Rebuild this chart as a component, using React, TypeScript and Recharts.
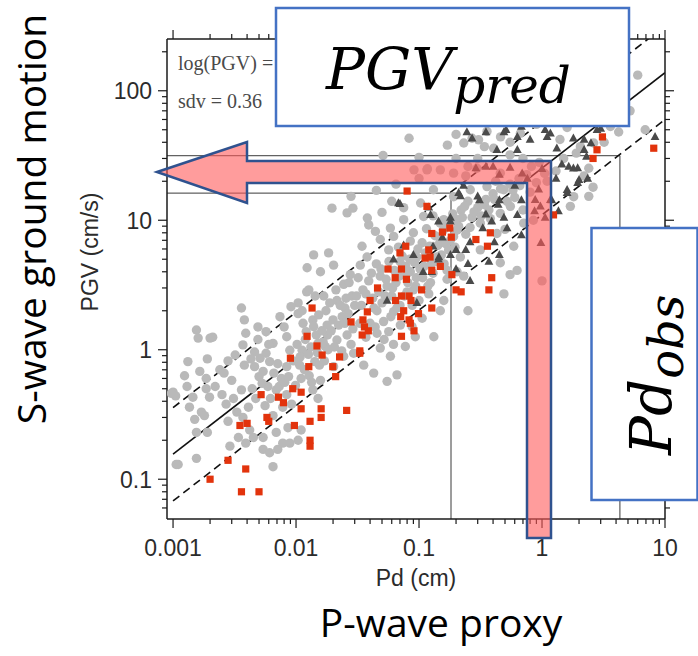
import { ReferenceLine, Scatter, ScatterChart, XAxis, YAxis } from "recharts"

// axis ranges (log10 scales)
const X_MIN = 0.000893
const X_MAX = 10
const Y_MIN = 0.0493
const Y_MAX = 251

const xMajorTicks = [0.001, 0.01, 0.1, 1, 10]
const xTickLabels = ["0.001", "0.01", "0.1", "1", "10"]
const xMinorTicks = [
  0.002, 0.003, 0.004, 0.005, 0.006, 0.007, 0.008, 0.009,
  0.02, 0.03, 0.04, 0.05, 0.06, 0.07, 0.08, 0.09,
  0.2, 0.3, 0.4, 0.5, 0.6, 0.7, 0.8, 0.9,
  2, 3, 4, 5, 6, 7, 8, 9,
]
const yMajorTicks = [0.1, 1, 10, 100]
const yTickLabels = ["0.1", "1", "10", "100"]
const yMinorTicks = [
  0.06, 0.07, 0.08, 0.09,
  0.2, 0.3, 0.4, 0.5, 0.6, 0.7, 0.8, 0.9,
  2, 3, 4, 5, 6, 7, 8, 9,
  20, 30, 40, 50, 60, 70, 80, 90, 200,
]

// [Pd (cm), PGV (cm/s)]
const grayPoints = [
  [0.001, 0.47], [0.00105, 0.44], [0.0011, 0.13], [0.00097, 0.46], [0.00106, 0.13],
  [0.00155, 1.42], [0.0016, 1.23], [0.002, 1.23], [0.0021, 1.25], [0.00132, 0.81],
  [0.00124, 0.63], [0.00165, 0.68], [0.00186, 0.6], [0.00145, 0.43], [0.00136, 0.36],
  [0.00198, 0.43], [0.00186, 0.5], [0.0017, 0.33], [0.0015, 0.29], [0.0018, 0.31],
  [0.00155, 0.23], [0.0019, 0.23], [0.00155, 0.145], [0.0024, 0.7], [0.0026, 0.66],
  [0.003, 0.58], [0.0032, 0.91], [0.0037, 1.09], [0.0038, 0.76], [0.0036, 0.49],
  [0.0028, 0.28], [0.0034, 0.21], [0.0029, 0.18], [0.0039, 0.19], [0.0045, 0.21],
  [0.0054, 0.21], [0.0054, 0.17], [0.0071, 0.17], [0.0078, 0.19], [0.0089, 0.19],
  [0.0061, 0.16], [0.0065, 0.125], [0.0036, 2.1], [0.0038, 1.7], [0.0039, 1.34],
  [0.0049, 1.5], [0.0057, 1.38], [0.0049, 1.2], [0.0046, 0.96], [0.0051, 0.86],
  [0.0057, 0.94], [0.0046, 0.74], [0.0054, 0.68], [0.0061, 0.81], [0.0065, 1.12],
  [0.0074, 1.8], [0.0084, 1.26], [0.0104, 1.9], [0.0114, 1.6], [0.0121, 1.38],
  [0.0137, 1.7], [0.0076, 0.6], [0.0069, 0.49], [0.0059, 0.52], [0.0084, 0.45],
  [0.011, 0.6], [0.0078, 0.36], [0.0065, 0.31], [0.0069, 0.23], [0.0086, 0.25],
  [0.0137, 0.49], [0.0151, 0.42], [0.0128, 0.63], [0.0142, 0.81], [0.0155, 0.76],
  [0.0107, 0.76], [0.0084, 0.74], [0.0089, 0.99], [0.0112, 0.99], [0.0151, 1.12],
  [0.0037, 0.3], [0.0042, 0.24], [0.0104, 0.2], [0.011, 0.24], [0.0104, 2.3],
  [0.0143, 2.6], [0.0091, 2.15], [0.0122, 2.8],
  [0.0196, 12.4], [0.026, 11.4], [0.039, 9.2], [0.0139, 5.4], [0.0184, 5.6],
  [0.0202, 4.5], [0.0158, 4.0], [0.0123, 4.3], [0.0276, 3.8], [0.0244, 3.2],
  [0.0333, 4.5], [0.0378, 5.2], [0.0344, 6.3], [0.0484, 7.1], [0.0442, 8.2],
  [0.0585, 8.7], [0.0567, 5.9], [0.039, 3.4], [0.0484, 3.7], [0.055, 3.1],
  [0.0285, 2.6], [0.0215, 2.4], [0.0168, 2.6], [0.0127, 2.9], [0.0112, 2.0],
  [0.0153, 1.86], [0.0179, 1.55], [0.0139, 1.51], [0.0237, 1.8], [0.026, 1.3],
  [0.0215, 1.19], [0.0294, 0.94], [0.0244, 0.89], [0.0355, 0.76], [0.0484, 1.03],
  [0.0455, 1.34], [0.0567, 1.38], [0.0515, 1.65], [0.0455, 2.0], [0.0622, 1.97],
  [0.0705, 1.55], [0.0877, 1.51], [0.0933, 1.26], [0.0774, 1.06], [0.0585, 0.89],
  [0.0428, 0.66], [0.0662, 0.64], [0.055, 0.57], [0.106, 1.75], [0.132, 1.26],
  [0.159, 2.4], [0.149, 2.0], [0.09, 2.9], [0.124, 3.3], [0.169, 3.5],
  [0.204, 4.0], [0.085, 4.0], [0.096, 5.2], [0.085, 6.9], [0.0622, 7.5],
  [0.075, 10.1], [0.106, 6.7], [0.149, 7.1], [0.174, 5.9], [0.191, 7.5],
  [0.159, 10.1], [0.204, 10.1], [0.103, 13.6], [0.038, 10.4], [0.029, 12.4],
  [0.0173, 1.06], [0.0202, 0.74], [0.0158, 0.58],
  [0.03, 2.2], [0.035, 2.9], [0.042, 2.5], [0.05, 2.3], [0.06, 2.6],
  [0.065, 3.3], [0.033, 1.6], [0.04, 1.6], [0.052, 1.2], [0.062, 1.1],
  [0.07, 2.2], [0.08, 2.8], [0.095, 3.6], [0.11, 4.4], [0.025, 2.1],
  [0.02, 1.7], [0.018, 1.3], [0.028, 1.1], [0.045, 4.6], [0.07, 4.8],
  [0.08, 3.9], [0.1, 2.4], [0.12, 2.7], [0.13, 3.9], [0.14, 5.2],
  [0.16, 4.6], [0.115, 8.6], [0.13, 10.8], [0.09, 8.0], [0.068, 6.2],
  [0.028, 15.3], [0.051, 31.6], [0.083, 43], [0.1, 30.6], [0.117, 25],
  [0.045, 17], [0.065, 19], [0.06, 14], [0.075, 12.5], [0.05, 11.5],
  [0.231, 39.5], [0.305, 41.8], [0.404, 36], [0.357, 48.5], [0.667, 47],
  [2.05, 37], [2.63, 39.5], [2.4, 25.2], [1.81, 15.2], [1.7, 12.8],
  [0.116, 24.5], [0.149, 24.5], [0.191, 23.1], [0.296, 25.2], [0.458, 23.1],
  [0.489, 17.2], [0.357, 18.2], [0.261, 17.2], [0.191, 15.2], [0.131, 17.2],
  [0.109, 10.7], [0.149, 9.5], [0.204, 8.4], [0.315, 9.5], [0.458, 11.3],
  [0.553, 12.8], [0.43, 7.9], [0.589, 6.3], [0.458, 4.7], [0.315, 5.9],
  [0.217, 5.2], [0.169, 4.1], [0.231, 3.7], [1.0, 3.4], [0.627, 4.1],
  [0.71, 9.5], [0.27, 43], [0.34, 37], [0.46, 44], [0.55, 40],
  [1.4, 42], [3.6, 53], [6.0, 132], [6.9, 50], [0.26, 58],
  [0.33, 62], [0.45, 68], [0.6, 58], [0.75, 63], [0.9, 55],
  [1.2, 60], [1.6, 52], [2.0, 62], [0.2, 46], [0.17, 38],
  [0.091, 24.5], [0.24, 22], [0.1, 21], [2.6, 18], [2.4, 15.3],
  [2.2, 22], [0.55, 3.8], [0.49, 2.7], [0.25, 2.0],
  [0.22, 12], [0.25, 14], [0.3, 12.5], [0.35, 14.5], [0.4, 16],
  [0.42, 20], [0.55, 19], [0.6, 15], [0.65, 21], [0.5, 8.5],
  [0.38, 10.3], [0.27, 10.5], [0.24, 7.8], [0.7, 12], [0.8, 16.5],
  [0.85, 10], [1.1, 20], [1.3, 24], [0.95, 28], [0.7, 30],
  [0.55, 32], [0.3, 30], [0.2, 30], [0.25, 26],
  [0.0025, 0.45], [0.0027, 0.38], [0.0031, 0.42], [0.0033, 0.33], [0.0041, 0.36],
  [0.0044, 0.5], [0.0047, 0.42], [0.005, 0.62], [0.0053, 0.55], [0.0056, 0.37],
  [0.0062, 0.42], [0.0066, 0.66], [0.0071, 0.78], [0.0073, 0.52], [0.0081, 0.56],
  [0.0087, 0.62], [0.0092, 0.38], [0.0095, 0.82], [0.0099, 0.53], [0.0102, 1.1],
  [0.0108, 0.88], [0.0117, 0.7], [0.0119, 1.2], [0.0126, 0.92], [0.0132, 1.05],
  [0.0134, 0.56], [0.0146, 1.3], [0.0149, 0.95], [0.0162, 1.4], [0.0166, 1.15],
  [0.017, 0.82], [0.0175, 2.0], [0.0182, 1.0], [0.0188, 2.3], [0.0193, 1.4],
  [0.0205, 1.05], [0.0211, 2.9], [0.0222, 1.55], [0.0229, 2.2], [0.0235, 0.98],
  [0.0249, 1.6], [0.0255, 2.5], [0.0265, 1.9], [0.027, 3.3], [0.029, 1.45],
  [0.031, 2.6], [0.032, 3.6], [0.034, 2.2], [0.037, 2.7], [0.037, 1.25],
  [0.041, 3.9], [0.043, 2.1], [0.044, 1.5], [0.047, 2.8], [0.049, 4.2],
  [0.053, 2.6], [0.054, 3.5], [0.057, 4.8], [0.059, 1.8], [0.061, 3.0],
  [0.063, 4.1], [0.066, 2.1], [0.069, 3.7], [0.073, 5.3], [0.076, 2.6],
  [0.078, 4.4], [0.081, 3.3], [0.084, 5.0], [0.088, 2.2], [0.092, 4.7],
  [0.094, 3.1], [0.098, 6.0], [0.102, 4.2], [0.107, 3.6], [0.113, 5.6],
  [0.118, 3.1], [0.122, 6.3], [0.126, 4.6], [0.135, 7.6], [0.138, 4.8],
  [0.142, 6.4], [0.152, 5.4], [0.158, 8.4], [0.165, 6.6], [0.172, 9.3],
  [0.18, 7.0], [0.188, 11.2], [0.196, 6.2], [0.21, 9.0], [0.225, 10.5],
  [0.235, 12.8], [0.26, 8.8], [0.28, 11.6], [0.32, 10.8], [0.34, 13.2],
  [0.37, 12.0], [0.41, 14.5], [0.46, 17.5], [0.52, 14.0], [0.58, 17.0],
  [0.66, 18.5], [0.75, 22.5], [0.82, 26], [0.9, 19.5], [1.05, 23],
  [1.5, 30], [1.9, 33], [3.2, 40], [4.2, 48], [5.2, 70],
  [0.008, 1.5], [0.006, 1.1], [0.0043, 0.85], [0.0028, 0.82], [0.0022, 0.52],
  [0.0013, 0.52], [0.0019, 0.85],
]

const redPoints = [
  [0.002, 0.1], [0.0028, 0.14], [0.0039, 0.12], [0.0036, 0.08], [0.005, 0.08],
  [0.0035, 0.26], [0.004, 0.27], [0.0052, 0.45], [0.0058, 0.3], [0.006, 0.28],
  [0.0072, 0.43], [0.0079, 0.39], [0.009, 0.86], [0.0094, 0.5], [0.0097, 0.26],
  [0.011, 0.47], [0.011, 0.35], [0.0123, 1.27], [0.0127, 0.74], [0.013, 0.28],
  [0.013, 0.2], [0.013, 0.18], [0.0135, 2.1], [0.0148, 1.07], [0.0163, 0.91],
  [0.016, 0.35], [0.016, 0.3], [0.0199, 0.74], [0.021, 0.62], [0.0226, 0.88],
  [0.0258, 0.34], [0.028, 1.64], [0.033, 0.98], [0.0345, 1.3], [0.036, 1.5],
  [0.038, 1.96], [0.0387, 1.4], [0.035, 1.7], [0.033, 0.94], [0.04, 2.4],
  [0.046, 3.0], [0.056, 4.2], [0.064, 3.6], [0.0645, 2.4], [0.07, 5.6],
  [0.072, 4.2], [0.072, 2.6], [0.072, 1.27], [0.071, 1.8], [0.075, 2.0],
  [0.078, 6.3], [0.079, 3.5], [0.08, 16.8], [0.083, 2.6], [0.083, 1.7],
  [0.085, 1.6], [0.086, 2.4], [0.091, 1.4], [0.099, 1.9], [0.105, 2.9],
  [0.112, 5.1], [0.116, 12.8], [0.12, 5.9], [0.123, 5.2], [0.127, 7.9],
  [0.127, 4.1], [0.127, 2.1], [0.149, 4.4], [0.155, 8.1], [0.178, 8.7],
  [0.183, 7.4], [0.185, 3.8], [0.2, 2.9], [0.22, 2.8], [0.29, 7.1],
  [0.36, 6.3], [0.38, 8.0], [0.39, 3.6], [0.37, 2.9], [1.24, 11],
  [2.6, 30], [2.8, 35], [3.1, 44], [8.1, 36],
]

const trianglePoints = [
  [0.07, 13.4], [0.12, 12.6], [0.18, 10.5], [0.21, 16.3], [0.155, 7.4],
  [0.18, 9.8], [0.13, 6.3], [0.145, 5.2], [0.18, 5.4], [0.24, 5.9],
  [0.25, 4.6], [0.2, 4.2], [0.37, 4.8], [0.41, 6.8], [0.33, 8.7],
  [0.39, 9.8], [0.49, 10.5], [0.45, 14.3], [0.68, 14.3], [0.6, 18.5],
  [0.76, 21], [0.98, 6.7], [0.94, 17.3], [1.0, 25], [1.3, 21],
  [1.45, 27], [1.95, 25.3], [2.2, 35], [2.5, 39.5], [3.0, 51],
  [8.3, 44], [0.45, 22.5], [0.55, 25.5], [0.35, 26], [0.29, 25.3],
  [0.27, 43], [0.35, 48], [0.49, 48], [0.68, 53], [1.06, 50],
  [1.36, 56], [1.8, 43], [0.43, 35], [0.63, 35], [0.23, 18.5],
  [0.31, 14.3], [0.35, 11.1], [0.52, 8.7], [0.68, 7.7], [0.45, 5.4],
  [0.87, 11.8], [1.06, 10.5], [1.36, 11.8], [1.2, 14.3], [1.6, 16.3],
  [1.95, 19.5], [2.35, 21], [0.51, 50], [1.17, 47], [0.8, 42],
  [0.63, 44], [0.245, 48], [1.32, 36], [0.4, 26], [0.69, 23],
  [0.88, 14.4], [0.3, 15.3], [0.217, 15.4], [0.44, 13.2], [0.63, 11],
  [0.26, 6.8], [0.2, 5.9], [1.8, 25.2], [1.6, 17.2], [2.3, 31],
  [1.1, 44], [2.8, 50], [2.2, 42], [1.65, 26], [2.0, 20.5],
  [1.17, 14.4], [0.97, 12.8], [0.068, 13.6], [0.124, 11], [0.144, 9.8],
  [0.09, 5.4], [0.075, 6.4], [0.062, 5.0], [0.127, 4.0], [0.096, 2.3],
  [0.055, 2.4], [0.144, 5.0], [0.108, 4.0], [0.26, 3.4],
]

// regression line and +/- 1 sdv, read at the ends of the plot
const fitLine = [{ pd: 0.001, pgv: 0.156 }, { pd: 10, pgv: 138 }]
const upperLine = [{ pd: 0.001, pgv: 0.357 }, { pd: 10, pgv: 317 }]
const lowerLine = [{ pd: 0.001, pgv: 0.068 }, { pd: 10, pgv: 60 }]
// guide lines: Pd up to the dashed line, then across to the PGV axis
const guideLow = [{ pd: 0.182, pgv: Y_MIN }, { pd: 0.182, pgv: 16.2 }, { pd: X_MIN, pgv: 16.2 }]
const guideHigh = [{ pd: 4.3, pgv: Y_MIN }, { pd: 4.3, pgv: 31.5 }, { pd: X_MIN, pgv: 31.5 }]

const toRows = (pts: number[][]) => pts.map(([pd, pgv]) => ({ pd, pgv }))
const grayData = toRows(grayPoints)
const redData = toRows(redPoints)
const triangleData = toRows(trianglePoints)

const SANS = '"Liberation Sans", Arial, sans-serif'
const SERIF = '"Liberation Serif", "Times New Roman", serif'
const MATH = '"DejaVu Serif", serif'
const BIG = '"Open Sans", "Noto Sans", sans-serif'
const AXIS = "#1b1b1b"

const GrayDot = (p: any) => <circle cx={p.cx} cy={p.cy} r={4.7} fill="#b9b9b9" />
const RedSquare = (p: any) => (
  <rect x={p.cx - 3.6} y={p.cy - 3.6} width={7.2} height={7.2} fill="#e2330c" />
)
const DarkTriangle = (p: any) => (
  <polygon
    points={`${p.cx},${p.cy - 4.8} ${p.cx - 4.4},${p.cy + 3.2} ${p.cx + 4.4},${p.cy + 3.2}`}
    fill="#4a4a4a"
  />
)

// ticks: side says which way the tick line points
const XTick = ({ x, y, payload, side }: any) => {
  const i = xMajorTicks.indexOf(payload.value)
  const len = i >= 0 ? 9 : 5
  const dir = side === "top" ? -1 : 1
  return (
    <g>
      <line x1={x} x2={x} y1={y} y2={y + dir * len} stroke={AXIS} strokeWidth={1.2} />
      {side === "bottom" && i >= 0 && (
        <text x={x} y={y + 37} textAnchor="middle" fontFamily={SANS} fontSize={23} fill="#2b2b2b">
          {xTickLabels[i]}
        </text>
      )}
    </g>
  )
}

const YTick = ({ x, y, payload, side }: any) => {
  const i = yMajorTicks.indexOf(payload.value)
  const len = i >= 0 ? 9 : 5
  const dir = side === "left" ? -1 : 1
  return (
    <g>
      <line x1={x} x2={x + dir * len} y1={y} y2={y} stroke={AXIS} strokeWidth={1.2} />
      {side === "left" && i >= 0 && (
        <text x={x - 15} y={y} dy="0.36em" textAnchor="end" fontFamily={SANS} fontSize={23} fill="#2b2b2b">
          {yTickLabels[i]}
        </text>
      )}
    </g>
  )
}

const polySegments = (pts: { pd: number; pgv: number }[], key: string, color: string) =>
  pts.slice(1).map((p, i) => (
    <ReferenceLine
      key={key + i}
      segment={[{ x: pts[i].pd, y: pts[i].pgv }, { x: p.pd, y: p.pgv }]}
      stroke={color}
      strokeWidth={1}
      ifOverflow="hidden"
    />
  ))

export default function App() {
  const xTicks = [...xMajorTicks, ...xMinorTicks]
  const yTicks = [...yMajorTicks, ...yMinorTicks]
  const axisLine = { stroke: AXIS, strokeWidth: 1.5 }

  return (
    <div style={{ position: "absolute", left: 0, top: 0, width: 698, height: 656, background: "#fff" }}>
      <ScatterChart width={698} height={656} margin={{ top: 29, right: 23, bottom: 107, left: 107 }}>
        <XAxis
          type="number"
          dataKey="pd"
          scale="log"
          domain={[X_MIN, X_MAX]}
          allowDataOverflow
          ticks={xTicks}
          interval={0}
          tickSize={0}
          tickMargin={0}
          tickLine={false}
          axisLine={axisLine}
          tick={(p: any) => <XTick {...p} side="bottom" />}
          height={30}
          label={{ value: "Pd (cm)", position: "bottom", offset: 21, fill: "#2b2b2b", fontSize: 23, fontFamily: SANS }}
        />
        <XAxis
          xAxisId="top"
          orientation="top"
          type="number"
          dataKey="pd"
          scale="log"
          domain={[X_MIN, X_MAX]}
          allowDataOverflow
          ticks={xTicks}
          interval={0}
          tickSize={0}
          tickMargin={0}
          tickLine={false}
          axisLine={axisLine}
          tick={(p: any) => <XTick {...p} side="top" />}
          height={10}
        />
        <YAxis
          type="number"
          dataKey="pgv"
          scale="log"
          domain={[Y_MIN, Y_MAX]}
          allowDataOverflow
          ticks={yTicks}
          interval={0}
          tickSize={0}
          tickMargin={0}
          tickLine={false}
          axisLine={axisLine}
          tick={(p: any) => <YTick {...p} side="left" />}
          width={60}
        />
        <YAxis
          yAxisId="right"
          orientation="right"
          type="number"
          dataKey="pgv"
          scale="log"
          domain={[Y_MIN, Y_MAX]}
          allowDataOverflow
          ticks={yTicks}
          interval={0}
          tickSize={0}
          tickMargin={0}
          tickLine={false}
          axisLine={axisLine}
          tick={(p: any) => <YTick {...p} side="right" />}
          width={10}
        />
        <Scatter data={grayData} shape={GrayDot} isAnimationActive={false} />
        <Scatter data={triangleData} shape={DarkTriangle} isAnimationActive={false} />
        <Scatter data={redData} shape={RedSquare} isAnimationActive={false} />
        {polySegments(guideLow, "gl", "#3a3a3a")}
        {polySegments(guideHigh, "gh", "#3a3a3a")}
        <ReferenceLine
          segment={[{ x: fitLine[0].pd, y: fitLine[0].pgv }, { x: fitLine[1].pd, y: fitLine[1].pgv }]}
          stroke="#111"
          strokeWidth={1.6}
          ifOverflow="hidden"
        />
        <ReferenceLine
          segment={[{ x: upperLine[0].pd, y: upperLine[0].pgv }, { x: upperLine[1].pd, y: upperLine[1].pgv }]}
          stroke="#111"
          strokeWidth={1.6}
          strokeDasharray="8 5"
          ifOverflow="hidden"
        />
        <ReferenceLine
          segment={[{ x: lowerLine[0].pd, y: lowerLine[0].pgv }, { x: lowerLine[1].pd, y: lowerLine[1].pgv }]}
          stroke="#111"
          strokeWidth={1.6}
          strokeDasharray="8 5"
          ifOverflow="hidden"
        />
      </ScatterChart>

      {/* annotations laid over the chart */}
      <svg width={698} height={656} style={{ position: "absolute", left: 0, top: 0, pointerEvents: "none" }}>
        <text x={178} y={70} fontFamily={SERIF} fontSize={20} fill="#4a4a4a">log(PGV) =</text>
        <text x={178} y={108} fontFamily={SERIF} fontSize={20} fill="#4a4a4a">sdv = 0.36</text>
        <polygon
          points="157,172 247,142 247,161 551,161 551,538 527,538 527,183 247,183 247,203"
          fill="#ff5a5a"
          fillOpacity={0.6}
          stroke="#2f528f"
          strokeWidth={2.5}
        />
        <rect x={276} y={8} width={353} height={118} fill="#fff" stroke="#4472c4" strokeWidth={2.5} />
        <text x={326} y={89} fontFamily={MATH} fontStyle="italic" fontSize={58} fill="#000">
          PGV<tspan dy={14} fontSize={50}>pred</tspan>
        </text>
        <rect x={591.5} y={228} width={106} height={272} fill="#fff" stroke="#4472c4" strokeWidth={2.5} />
        <g transform="translate(671,455) rotate(-90)">
          <text x={0} y={0} fontFamily={MATH} fontStyle="italic" fontSize={58} fill="#000">
            Pd<tspan dy={12} fontSize={48}>obs</tspan>
          </text>
        </g>
        <g transform="translate(46,219) rotate(-90)">
          <text x={0} y={0} textAnchor="middle" fontFamily={BIG} fontSize={39} fill="#000">
            S-wave ground motion
          </text>
        </g>
        <g transform="translate(98,252) rotate(-90)">
          <text x={0} y={0} textAnchor="middle" fontFamily={SANS} fontSize={23} fill="#2b2b2b">
            PGV (cm/s)
          </text>
        </g>
        <text x={441} y={637} textAnchor="middle" fontFamily={BIG} fontSize={39} fill="#000">
          P-wave proxy
        </text>
      </svg>
    </div>
  )
}
